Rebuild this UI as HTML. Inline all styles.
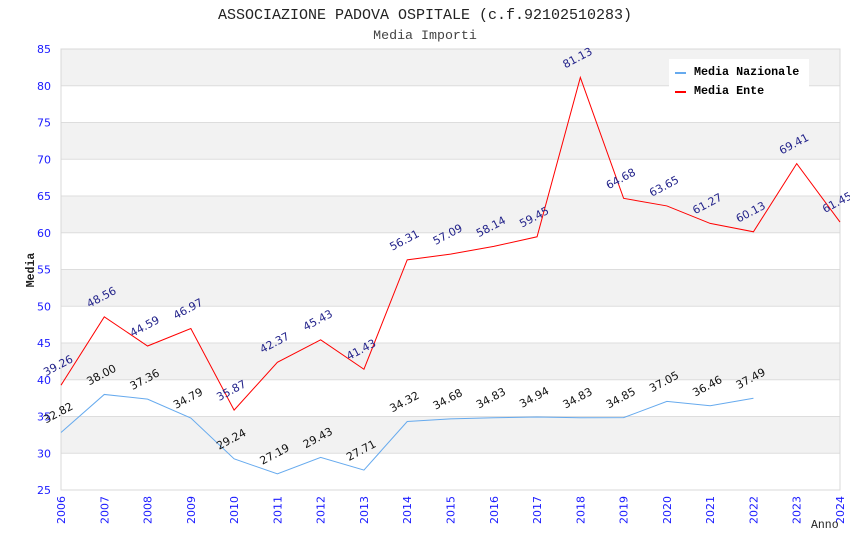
<!DOCTYPE html>
<html><head><meta charset="utf-8"><style>
body{margin:0;background:#fff;}
svg{display:block;}
</style></head><body>
<svg id="chart" width="850" height="550" xmlns="http://www.w3.org/2000/svg">
<text x="425" y="19" text-anchor="middle" font-family="Liberation Mono, monospace" font-size="15" fill="#222">ASSOCIAZIONE PADOVA OSPITALE (c.f.92102510283)</text>
<text x="425" y="39" text-anchor="middle" font-family="Liberation Mono, monospace" font-size="13.3" fill="#444">Media Importi</text>
<g id="bands"></g>
<g id="grid"></g>
<g id="axes"></g>
<g id="series"></g>
<g id="legend">
<rect x="669" y="59" width="140" height="40" fill="#fff"/>
<rect x="675" y="72" width="11" height="2" fill="#66aaee"/>
<text x="694" y="75" font-family="Liberation Mono, monospace" font-size="11.7" font-weight="bold" fill="#000">Media Nazionale</text>
<rect x="675" y="91" width="11" height="2" fill="#ff0000"/>
<text x="694" y="94" font-family="Liberation Mono, monospace" font-size="11.7" font-weight="bold" fill="#000">Media Ente</text>
</g>
<text transform="translate(34,270) rotate(-90)" text-anchor="middle" font-family="Liberation Mono, monospace" font-size="11.5" font-weight="bold" fill="#222">Media</text>
<text x="811" y="528" font-family="Liberation Mono, monospace" font-size="11.5" fill="#222">Anno</text>
</svg>
<script>
const years = [2006,2007,2008,2009,2010,2011,2012,2013,2014,2015,2016,2017,2018,2019,2020,2021,2022,2023,2024];
const nazionale = [32.82,38.00,37.36,34.79,29.24,27.19,29.43,27.71,34.32,34.68,34.83,34.94,34.83,34.85,37.05,36.46,37.49];
const ente = [39.26,48.56,44.59,46.97,35.87,42.37,45.43,41.43,56.31,57.09,58.14,59.45,81.13,64.68,63.65,61.27,60.13,69.41,61.45];
const yTicks = [25,30,35,40,45,50,55,60,65,70,75,80,85];
const NS='http://www.w3.org/2000/svg';
const L=61,R=840,T=49,B=490,yMin=25,yMax=85;
const FONT='DejaVu Sans, Liberation Sans, sans-serif';
function xs(i){return L+(R-L)*i/(years.length-1);}
function ys(v){return B-(v-yMin)/(yMax-yMin)*(B-T);}
function mk(tag,attrs,parent){const e=document.createElementNS(NS,tag);for(const k in attrs)e.setAttribute(k,attrs[k]);parent.appendChild(e);return e;}
const bands=document.getElementById('bands'),grid=document.getElementById('grid'),axes=document.getElementById('axes'),series=document.getElementById('series');
for(let i=0;i<yTicks.length-1;i++){
  const grey=(yTicks.length-2-i)%2===0;
  const r=mk('rect',{x:L,y:ys(yTicks[i+1]),width:R-L,height:ys(yTicks[i])-ys(yTicks[i+1]),fill:grey?'#f2f2f2':'#ffffff'},bands);
  
  
}
yTicks.forEach(v=>{
  const l=mk('line',{x1:L,x2:R,y1:ys(v),y2:ys(v),stroke:'#dddddd','stroke-width':1},grid);
  
  
  const t=mk('text',{x:L-10,y:ys(v)+4,'text-anchor':'end','font-family':FONT,'font-size':11,fill:'#1a1aff'},axes);
  t.textContent=v;
  
  
});
const fr=mk('rect',{x:L,y:T,width:R-L,height:B-T,fill:'none',stroke:'#d8d8d8'},axes);


years.forEach((y,i)=>{
  const t=mk('text',{transform:`translate(${xs(i)+4},${B+6}) rotate(-90)`,'text-anchor':'end','font-family':FONT,'font-size':11,fill:'#1a1aff'},axes);
  t.textContent=y;
  
  
});
function drawSeries(data,color,labelColor,name){
  const pts=data.map((v,i)=>xs(i)+','+ys(v)).join(' ');
  const p=mk('polyline',{points:pts,fill:'none',stroke:color,'stroke-width':1},series);
  
  
  data.forEach((v,i)=>{
    const t=mk('text',{transform:`translate(${xs(i)-15},${ys(v)-9}) rotate(-28)`,'font-family':FONT,'font-size':11,fill:labelColor},series);
    t.textContent=v.toFixed(2);
    
    
  });
}
drawSeries(nazionale,'#66aaee','#111','nazionale');
drawSeries(ente,'#ff0000','#22228a','ente');
</script>
</body></html>
